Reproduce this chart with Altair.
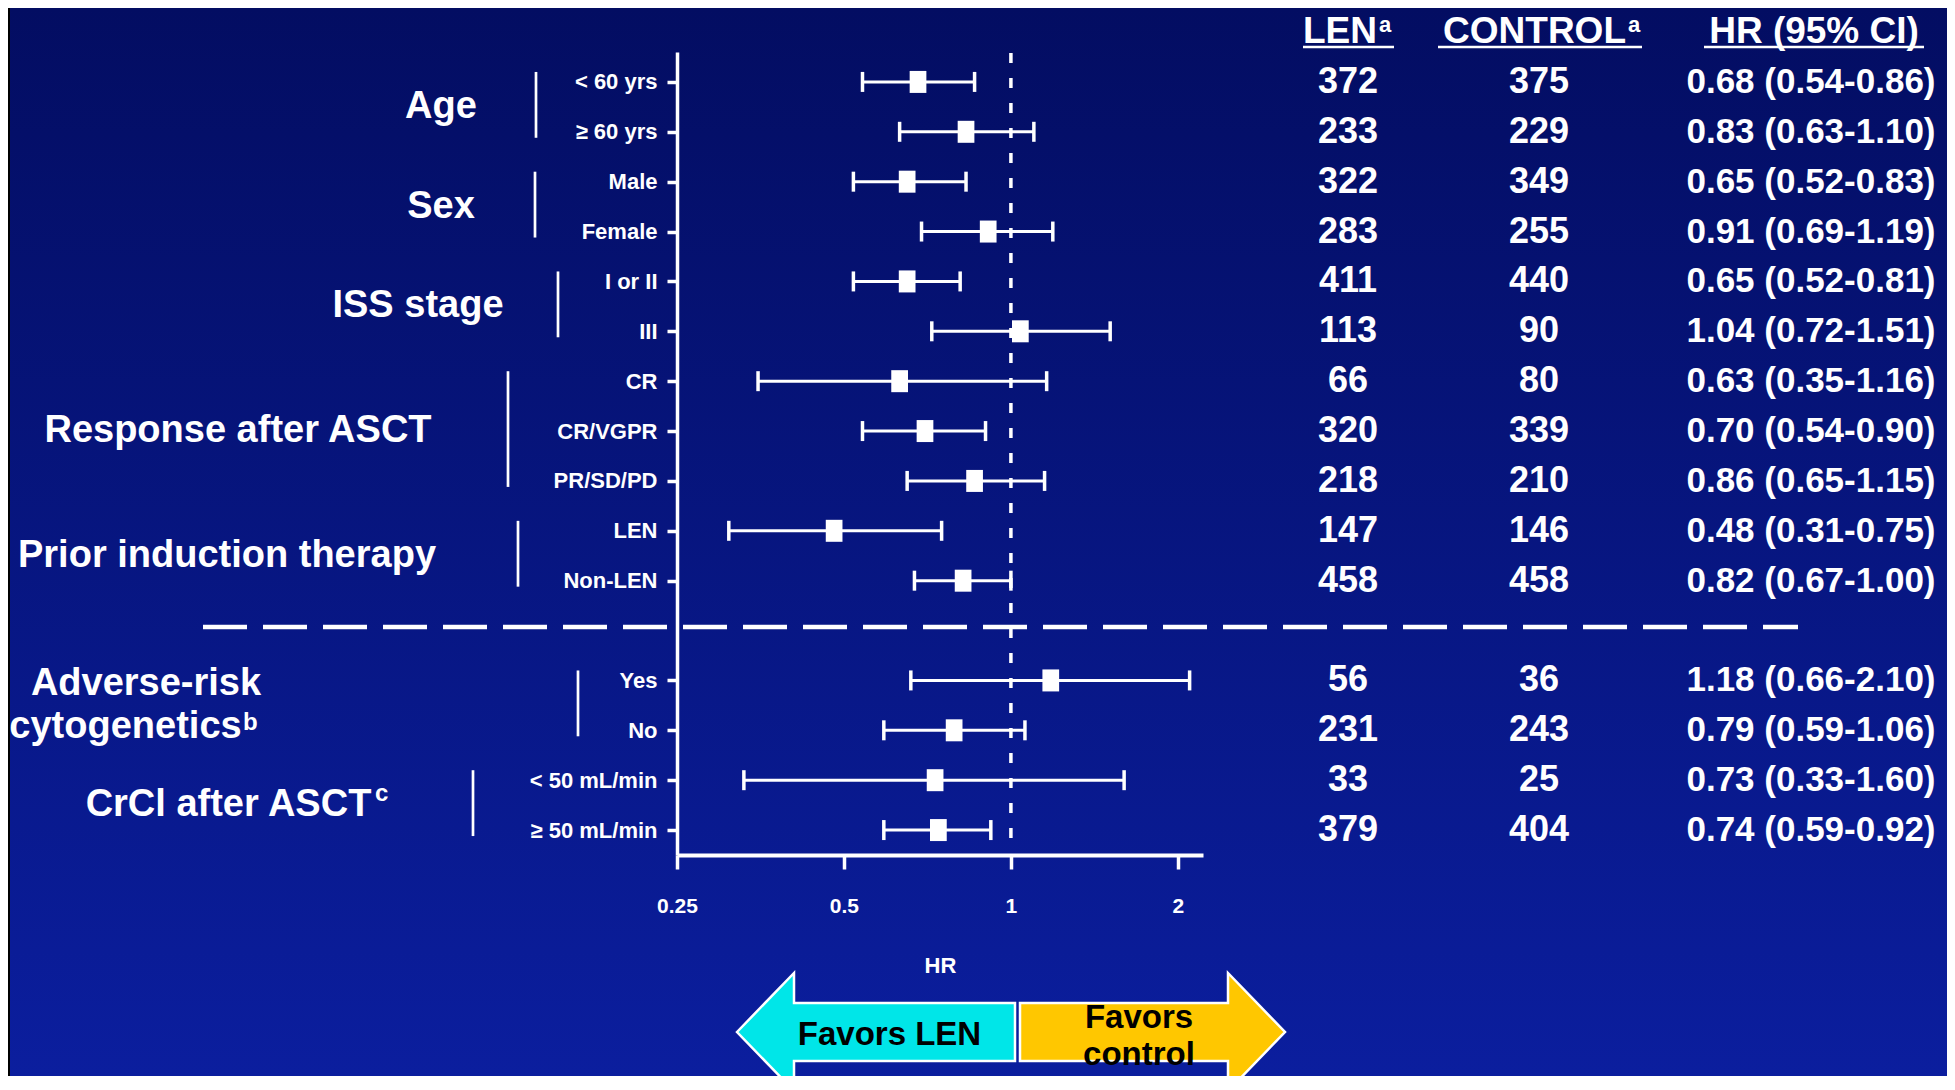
import json
import altair as alt
import pandas as pd

# ---------------- data ----------------
SUBGROUPS = ["< 60 yrs", "≥ 60 yrs", "Male", "Female", "I or II", "III", "CR",
             "CR/VGPR", "PR/SD/PD", "LEN", "Non-LEN", "Yes", "No",
             "< 50 mL/min", "≥ 50 mL/min"]
SLOTS = [0, 1, 2, 3, 4, 5, 6, 7, 8, 9, 10, 12, 13, 14, 15]
HR = [0.68, 0.83, 0.65, 0.91, 0.65, 1.04, 0.63, 0.70, 0.86, 0.48, 0.82, 1.18, 0.79, 0.73, 0.74]
CI_LO = [0.54, 0.63, 0.52, 0.69, 0.52, 0.72, 0.35, 0.54, 0.65, 0.31, 0.67, 0.66, 0.59, 0.33, 0.59]
CI_HI = [0.86, 1.10, 0.83, 1.19, 0.81, 1.51, 1.16, 0.90, 1.15, 0.75, 1.00, 2.10, 1.06, 1.60, 0.92]
N_LEN = [372, 233, 322, 283, 411, 113, 66, 320, 218, 147, 458, 56, 231, 33, 379]
N_CONTROL = [375, 229, 349, 255, 440, 90, 80, 339, 210, 146, 458, 36, 243, 25, 404]
HR_TEXT = [f"{h:.2f} ({l:.2f}-{u:.2f})" for h, l, u in zip(HR, CI_LO, CI_HI)]

GROUP_FIRST = [0, 2, 4, 6, 9, 12, 14]
GROUP_LAST = [1, 3, 5, 8, 10, 13, 15]
GROUP_LINES = ["Age", "Sex", "ISS stage", "Response after ASCT",
               "Prior induction therapy", "Adverse-risk", "cytogenetics",
               "CrCl after ASCT"]
X_TICKS = [0.25, 0.5, 1, 2]
HEADERS = ["LEN", "CONTROL", "HR (95% CI)"]

# ---------------- layout ----------------
W, H = 526, 803
PAD_L, PAD_T, PAD_R, PAD_B = 669, 44, 744, 221
FONT = "Liberation Sans, Arial, sans-serif"
WHITE = "#ffffff"
LABEL_X = [-236, -236, -259, -439, -450, -531, -551.5, -448.5]
LABEL_SLOT = [0.5, 2.5, 4.5, 7.0, 9.5, 12.07, 12.93, 14.5]
BRACKET_X = [-141, -142, -119, -169, -159, -99, -204]

x_scale = alt.Scale(type="log", base=2, domain=[0.25, 2.22], nice=False)
y_scale = alt.Scale(domain=[-0.6, 15.5], reverse=True, nice=False, zero=False)

label_arr = [""] * 16
for s, l in zip(SLOTS, SUBGROUPS):
    label_arr[s] = l

y_axis = alt.Axis(values=SLOTS,
                  labelExpr=json.dumps(label_arr, ensure_ascii=False) + "[datum.value]",
                  title=None, grid=False, domainColor=WHITE, domainWidth=3.5,
                  tickColor=WHITE, tickWidth=3.5, tickSize=10, labelColor=WHITE,
                  labelFont=FONT, labelFontSize=22, labelFontWeight="bold",
                  labelPadding=10, labelOverlap=False, zindex=1)
x_axis = alt.Axis(values=X_TICKS, labelExpr="'' + datum.value", title="HR",
                  grid=False, domainColor=WHITE, domainWidth=4, tickColor=WHITE,
                  tickWidth=3.5, tickSize=14, labelColor=WHITE, labelFont=FONT,
                  labelFontSize=21, labelFontWeight="bold", labelPadding=26,
                  labelFlush=False, labelOverlap=False, titleColor=WHITE,
                  titleFont=FONT, titleFontSize=22, titleFontWeight="bold",
                  titleY=110, titleBaseline="middle", zindex=1)

df = pd.DataFrame(dict(slot=SLOTS, hr=HR, lo=CI_LO, hi=CI_HI, nlen=N_LEN,
                       nctl=N_CONTROL, hrtext=HR_TEXT))
one = pd.DataFrame({"t": [""]})
Y = alt.Y("slot:Q", scale=y_scale)


def txt(text, x, y, size, color=WHITE, align="center", baseline="middle", **kw):
    return alt.Chart(pd.DataFrame({"t": [text]})).mark_text(
        font=FONT, fontSize=size, fontWeight="bold", color=color, align=align,
        baseline=baseline, **kw).encode(x=alt.value(x), y=alt.value(y), text="t:N")


layers = []

# background gradient
bg = alt.Chart(one).mark_rect(
    fill=alt.Gradient(gradient="linear", x1=0, x2=0, y1=0, y2=1,
                      stops=[alt.GradientStop(color="#030D62", offset=0),
                             alt.GradientStop(color="#0B1E9E", offset=1)])
).encode(x=alt.value(-667), x2=alt.value(W + PAD_R), y=alt.value(-PAD_T),
         y2=alt.value(H + PAD_B))
layers.append(bg)

# error bars (carry the axes)
rules = alt.Chart(df).mark_rule(color=WHITE, strokeWidth=3).encode(
    x=alt.X("lo:Q", scale=x_scale, axis=x_axis), x2="hi:Q",
    y=alt.Y("slot:Q", scale=y_scale, axis=y_axis))
layers.append(rules)

# separator dashed line
layers.append(alt.Chart(one).mark_rule(color=WHITE, strokeWidth=4.5, strokeDash=[44, 16]).encode(
    x=alt.value(-474), x2=alt.value(1121), y=alt.value(575)))

# reference line at HR = 1
layers.append(alt.Chart(pd.DataFrame({"ref": [1.0]})).mark_rule(
    color=WHITE, strokeWidth=3.5, strokeDash=[10, 15]).encode(
    x=alt.X("ref:Q", scale=x_scale), y=alt.value(1), y2=alt.value(788)))

caps = alt.Chart(df).transform_fold(["lo", "hi"], as_=["end", "val"]).mark_point(
    shape="M0,-1L0,1", size=400, filled=False, color=WHITE, strokeWidth=3.5,
    opacity=1).encode(x=alt.X("val:Q", scale=x_scale), y=Y)
layers.append(caps)

markers = alt.Chart(df).mark_point(
    shape="M-0.76,-1L0.76,-1L0.76,1L-0.76,1Z", size=484, filled=True,
    color=WHITE, opacity=1).encode(x=alt.X("hr:Q", scale=x_scale), y=Y)
layers.append(markers)

# group brackets
for bx, f, l in zip(BRACKET_X, GROUP_FIRST, GROUP_LAST):
    layers.append(alt.Chart(pd.DataFrame({"y1": [f - 0.2], "y2": [l + 0.12]})).mark_rule(
        color=WHITE, strokeWidth=2.7).encode(
        x=alt.value(bx), y=alt.Y("y1:Q", scale=y_scale), y2="y2:Q"))

# group labels
for text, lx, ly in zip(GROUP_LINES, LABEL_X, LABEL_SLOT):
    layers.append(alt.Chart(pd.DataFrame({"t": [text], "ly": [ly]})).mark_text(
        font=FONT, fontSize=38, fontWeight="bold", color=WHITE, align="center",
        baseline="middle").encode(x=alt.value(lx), y=alt.Y("ly:Q", scale=y_scale),
                                  text="t:N"))
layers.append(txt("b", -434, 678, 24, align="left", baseline="alphabetic"))
layers.append(txt("c", -302, 749, 24, align="left", baseline="alphabetic"))

# table columns
for field, cx, fs in [("nlen", 671, 36), ("nctl", 862, 36), ("hrtext", 1134, 35)]:
    layers.append(alt.Chart(df).mark_text(
        font=FONT, fontSize=fs, fontWeight="bold", color=WHITE, align="center",
        baseline="middle").encode(x=alt.value(cx), y=Y, text=f"{field}:N"))

# headers
layers.append(txt(HEADERS[0], 700, -9, 37, align="right", baseline="alphabetic"))
layers.append(txt("a", 702, -20, 22, align="left", baseline="alphabetic"))
layers.append(txt(HEADERS[1], 949, -9, 37, align="right", baseline="alphabetic"))
layers.append(txt("a", 951, -20, 22, align="left", baseline="alphabetic"))
layers.append(txt(HEADERS[2], 1137, -9, 37, align="center", baseline="alphabetic"))
for a, b in [(626, 717), (761, 965), (1027, 1247)]:
    layers.append(alt.Chart(one).mark_rule(color=WHITE, strokeWidth=2.5).encode(
        x=alt.value(a), x2=alt.value(b), y=alt.value(-5)))

# arrows
layers.append(alt.Chart(one).mark_point(
    shape="M-139,0L-82,-59L-82,-29L139,-29L139,29L-82,29L-82,59Z", size=4,
    filled=True, fill="#00E6E8", stroke=WHITE, strokeWidth=2.5, opacity=1).encode(
    x=alt.value(199), y=alt.value(980)))
layers.append(alt.Chart(one).mark_point(
    shape="M-132,-29L76,-29L76,-59L133,0L76,59L76,29L-132,29Z", size=4,
    filled=True, fill="#FFC700", stroke=WHITE, strokeWidth=2.5, opacity=1).encode(
    x=alt.value(475), y=alt.value(980)))
layers.append(txt("Favors LEN", 212.5, 983, 33, color="#000000"))
layers.append(txt("Favors\ncontrol", 462, 965.5, 33, color="#000000",
                  lineBreak="\n", lineHeight=37))

chart = alt.layer(*layers).properties(
    width=W, height=H,
    padding={"left": PAD_L, "top": PAD_T, "right": PAD_R, "bottom": PAD_B},
    autosize=alt.AutoSizeParams(type="none"),
    background="#000000",
).configure_view(stroke=None).configure(font=FONT)

chart.save("out.html", embed_options={"renderer": "svg", "actions": False})
